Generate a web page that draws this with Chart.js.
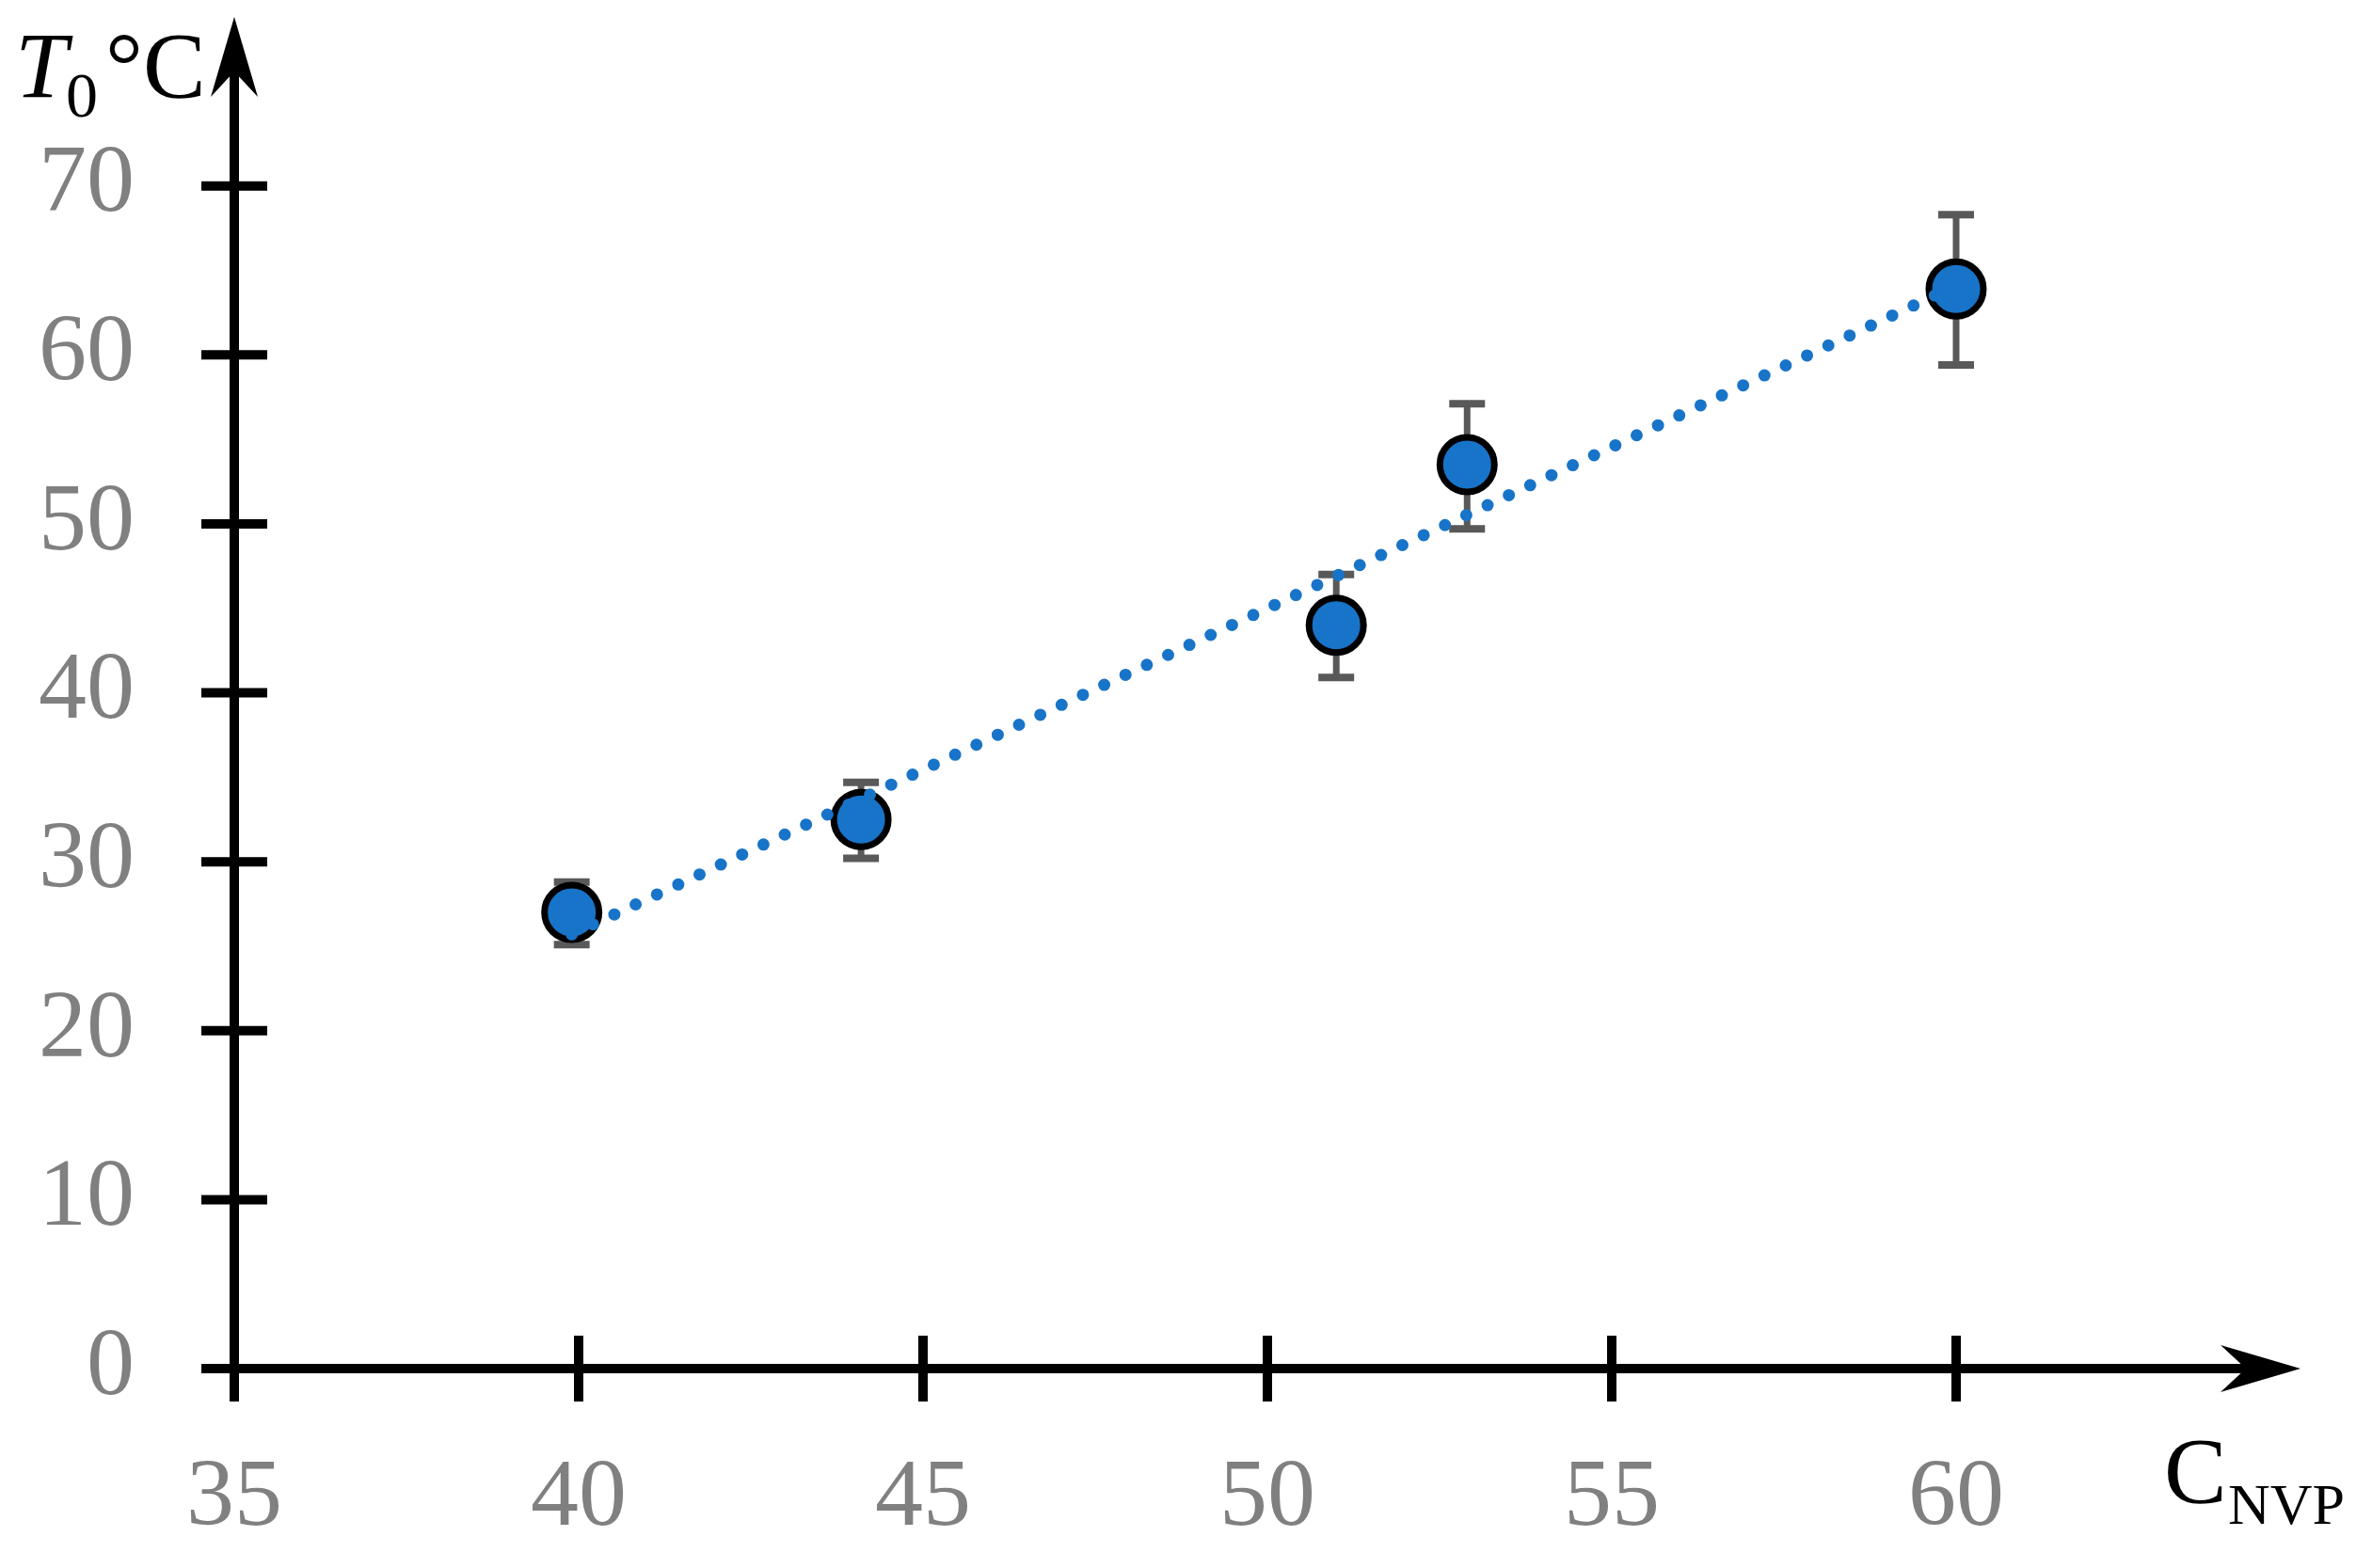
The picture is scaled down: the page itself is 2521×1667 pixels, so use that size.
<!DOCTYPE html>
<html>
<head>
<meta charset="utf-8">
<script src="https://cdn.jsdelivr.net/npm/chart.js@4.4.0/dist/chart.umd.min.js"></script>
<style>
  html, body { margin: 0; padding: 0; background: #fff; }
  #wrap { width: 2521px; height: 1667px; }
</style>
</head>
<body>
<div id="wrap"><canvas id="t0-chart" width="2521" height="1667"></canvas></div>
<script>
// values
const cnvp = [39.9, 44.1, 51.0, 52.9, 60.0];        // C_NVP
const t0 = [27.0, 32.5, 44.0, 53.5, 63.9];          // T0, °C
const errLow = [25.1, 30.2, 40.9, 49.7, 59.4];
const errHigh = [28.8, 34.7, 47.0, 57.1, 68.3];
const trendX = [39.9, 60.0];                         // dotted trend line ends
const trendY = [25.7, 64.1];
const xTickVals = [35, 40, 45, 50, 55, 60];
const yTickVals = [0, 10, 20, 30, 40, 50, 60, 70];

const blue = "rgb(24, 116, 200)";
const serif = "'Liberation Serif', 'DejaVu Serif', serif";

// axes with crossing ticks and arrow heads, plus error bars
const axesPlugin = {
  id: "axesPlugin",
  beforeDatasetsDraw(chart) {
    const ctx = chart.ctx;
    const xs = chart.scales.x, ys = chart.scales.y;
    const x0 = xs.getPixelForValue(35), y0 = ys.getPixelForValue(0);
    const xEnd = xs.getPixelForValue(65), yEnd = ys.getPixelForValue(80);
    const tk = 35, head = 85, half = 25, notch = 27;
    ctx.save();
    ctx.strokeStyle = "#000";
    ctx.fillStyle = "#000";
    ctx.lineWidth = 10;
    ctx.lineCap = "butt";
    ctx.beginPath();
    ctx.moveTo(x0 - tk, y0); ctx.lineTo(xEnd - head + notch, y0);
    ctx.moveTo(x0, y0 + tk); ctx.lineTo(x0, yEnd + head - notch);
    xTickVals.forEach(v => {
      const p = xs.getPixelForValue(v);
      ctx.moveTo(p, y0 - tk); ctx.lineTo(p, y0 + tk);
    });
    yTickVals.forEach(v => {
      const p = ys.getPixelForValue(v);
      ctx.moveTo(x0 - tk, p); ctx.lineTo(x0 + tk, p);
    });
    ctx.stroke();
    // arrow heads
    ctx.beginPath();
    ctx.moveTo(xEnd, y0);
    ctx.lineTo(xEnd - head, y0 - half);
    ctx.lineTo(xEnd - head + notch, y0);
    ctx.lineTo(xEnd - head, y0 + half);
    ctx.closePath();
    ctx.moveTo(x0, yEnd);
    ctx.lineTo(x0 - half, yEnd + head);
    ctx.lineTo(x0, yEnd + head - notch);
    ctx.lineTo(x0 + half, yEnd + head);
    ctx.closePath();
    ctx.fill();
    // error bars
    ctx.strokeStyle = "#595959";
    ctx.lineWidth = 7;
    ctx.beginPath();
    cnvp.forEach((c, i) => {
      const px = xs.getPixelForValue(c);
      const lo = ys.getPixelForValue(errLow[i]);
      const hi = ys.getPixelForValue(errHigh[i]);
      ctx.moveTo(px, lo); ctx.lineTo(px, hi);
    });
    ctx.stroke();
    ctx.lineWidth = 8;
    ctx.beginPath();
    cnvp.forEach((c, i) => {
      const px = xs.getPixelForValue(c);
      [errLow[i], errHigh[i]].forEach(v => {
        const py = ys.getPixelForValue(v);
        ctx.moveTo(px - 19, py); ctx.lineTo(px + 19, py);
      });
    });
    ctx.stroke();
    ctx.restore();
  },
  afterDraw(chart) {
    const ctx = chart.ctx;
    ctx.save();
    ctx.fillStyle = "#000";
    ctx.textBaseline = "alphabetic";
    ctx.textAlign = "left";
    // y axis title: T0 °C
    ctx.font = "italic 100px " + serif;
    ctx.fillText("T", 16, 103);
    ctx.font = "68px " + serif;
    ctx.fillText("0", 70, 124);
    ctx.font = "100px " + serif;
    ctx.fillText("°C", 112, 103);
    // x axis title: C_NVP
    ctx.font = "100px " + serif;
    ctx.fillText("C", 2300, 1597);
    ctx.font = "62px " + serif;
    ctx.fillText("NVP", 2368, 1620);
    ctx.restore();
  }
};

const tickFont = { family: serif, size: 102 };

new Chart("t0-chart", {
  type: "scatter",
  data: {
    datasets: [
      {
        label: "trend",
        type: "line",
        data: trendX.map((x, i) => ({ x: x, y: trendY[i] })),
        borderColor: blue,
        borderWidth: 13,
        borderDash: [0, 25],
        borderCapStyle: "round",
        pointRadius: 0,
        fill: false,
        order: 0,
      },
      {
        label: "T0",
        data: cnvp.map((x, i) => ({ x: x, y: t0[i] })),
        backgroundColor: blue,
        borderColor: "#000",
        pointRadius: 29,
        pointBorderWidth: 7,
        pointHoverRadius: 29,
        order: 1,
      },
    ],
  },
  options: {
    responsive: false,
    animation: false,
    layout: { autoPadding: false, padding: { left: 0, right: 76, top: 18, bottom: 0 } },
    plugins: {
      legend: { display: false },
      tooltip: { enabled: false },
      title: { display: false },
    },
    scales: {
      x: {
        type: "linear",
        min: 35,
        max: 65,
        grid: { display: false, drawTicks: false },
        border: { display: false },
        ticks: {
          stepSize: 5,
          color: "#808080",
          font: tickFont,
          padding: 78,
          maxRotation: 0,
          callback: v => (xTickVals.includes(v) ? String(v) : null),
        },
        afterFit: s => {
          s.height = 212;
          s.paddingLeft = 0; s.paddingRight = 0;
        },
      },
      y: {
        type: "linear",
        min: 0,
        max: 80,
        grid: { display: false, drawTicks: false },
        border: { display: false },
        ticks: {
          stepSize: 10,
          color: "#808080",
          font: tickFont,
          padding: 106,
          callback: v => (yTickVals.includes(v) ? String(v) : null),
        },
        afterFit: s => {
          s.width = 249;
          s.paddingTop = 0; s.paddingBottom = 0;
        },
      },
    },
  },
  plugins: [axesPlugin],
});
</script>
</body>
</html>
